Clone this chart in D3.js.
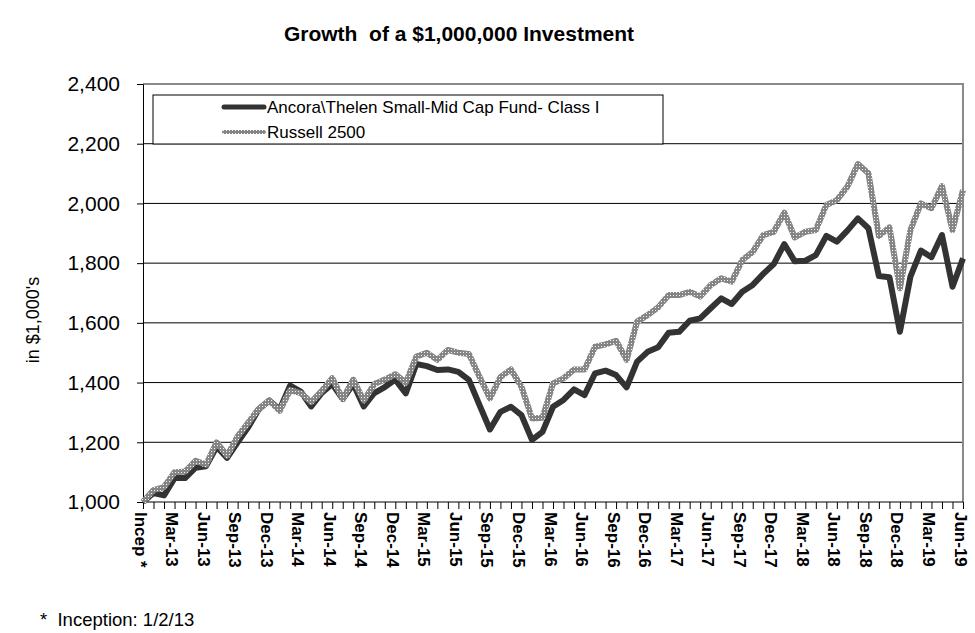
<!DOCTYPE html>
<html><head><meta charset="utf-8">
<script src="https://cdn.jsdelivr.net/npm/d3@7/dist/d3.min.js"></script>
<style>body{margin:0;background:#fff} svg{display:block;font-family:"Liberation Sans",Arial,sans-serif} text{white-space:pre}</style>
</head><body><svg id="c" width="975" height="633"></svg>
<script>
// Monthly values (in $1,000's), index 0 = inception 1/2/13, index 78 = Jun-19
const fund = [1000,1030,1022,1080,1080,1115,1120,1185,1148,1200,1250,1310,1340,1310,
  1390,1370,1320,1365,1395,1345,1395,1320,1365,1385,1410,1364,1462,1455,1442,1444,
  1436,1409,1325,1243,1302,1319,1291,1208,1235,1319,1342,1377,1358,1431,1440,1425,
  1384,1470,1503,1518,1567,1570,1607,1615,1649,1682,1663,1704,1727,1764,1797,1864,
  1806,1808,1827,1891,1872,1909,1950,1917,1757,1753,1570,1755,1842,1820,1894,1721,1816];
const russell = [1000,1040,1050,1100,1102,1138,1125,1200,1155,1220,1265,1312,1340,1305,
  1375,1365,1335,1372,1415,1345,1410,1340,1395,1410,1428,1400,1487,1500,1476,1509,
  1500,1496,1420,1347,1418,1444,1386,1280,1282,1397,1414,1444,1444,1520,1528,1540,
  1476,1604,1626,1652,1693,1693,1704,1688,1727,1749,1738,1810,1838,1894,1905,1969,
  1886,1905,1911,1995,2011,2056,2132,2101,1891,1920,1716,1911,2000,1984,2058,1911,2045];
const tickLabels = ["Incep *","Mar-13","Jun-13","Sep-13","Dec-13","Mar-14","Jun-14","Sep-14",
  "Dec-14","Mar-15","Jun-15","Sep-15","Dec-15","Mar-16","Jun-16","Sep-16","Dec-16","Mar-17",
  "Jun-17","Sep-17","Dec-17","Mar-18","Jun-18","Sep-18","Dec-18","Mar-19","Jun-19"];
const yTicks = [1000,1200,1400,1600,1800,2000,2200,2400];
const seriesNames = ["Ancora\\Thelen Small-Mid Cap Fund- Class I","Russell 2500"];
const title = "Growth  of a $1,000,000 Investment";
const yLabel = "in $1,000's";
const footnote = "*  Inception: 1/2/13";

const svg = d3.select("#c");
const L = 143, R = 963, T = 84, B = 502;
const x = d3.scaleLinear().domain([0, fund.length - 1]).range([L, R]);
const y = d3.scaleLinear().domain([1000, 2400]).range([B, T]);

const defs = svg.append("defs");
const pat = defs.append("pattern").attr("id","dots").attr("width",3).attr("height",3)
  .attr("patternUnits","userSpaceOnUse");
pat.append("rect").attr("width",3).attr("height",3).attr("fill","#858585");
pat.append("rect").attr("x",1).attr("y",1).attr("width",1).attr("height",1).attr("fill","#f4f4f4");

// title
svg.append("text").attr("x",459).attr("y",41).attr("text-anchor","middle")
  .attr("font-weight","bold").attr("font-size",21).text(title);

// gridlines
svg.append("g").selectAll("line").data(yTicks.slice(1)).join("line")
  .attr("x1",L).attr("x2",R).attr("y1",d=>y(d)).attr("y2",d=>y(d))
  .attr("stroke","#000").attr("stroke-width",1);

// top & right border (grey)
svg.append("line").attr("x1",L).attr("x2",R+1).attr("y1",T).attr("y2",T).attr("stroke","#8a8a8a").attr("stroke-width",2);
svg.append("line").attr("x1",R).attr("x2",R).attr("y1",T).attr("y2",B).attr("stroke","#8a8a8a").attr("stroke-width",2);

// y axis
const ya = svg.append("g").attr("transform",`translate(${L},0)`)
  .call(d3.axisLeft(y).tickValues(yTicks).tickSize(6).tickPadding(17).tickFormat(d3.format(",")));
ya.selectAll("text").attr("font-size",21).attr("fill","#000").attr("font-family","Liberation Sans, Arial");
ya.selectAll("line,path").attr("stroke","#000");

// x axis ticks
const xa = svg.append("g").attr("transform",`translate(0,${B})`)
  .call(d3.axisBottom(x).tickValues(d3.range(fund.length)).tickSize(7).tickFormat(""));
xa.selectAll("line,path").attr("stroke","#000");
xa.select("path").attr("d",`M${L},0H${R}`);

// x labels
svg.append("g").selectAll("text").data(tickLabels).join("text")
  .attr("transform",(d,i)=>`translate(${x(i*3)},512) rotate(90)`)
  .attr("dy","0.5em").attr("font-weight","bold").attr("font-size",17).text(d=>d);

// y label
svg.append("text").attr("transform","translate(33,320) rotate(-90)").attr("text-anchor","middle")
  .attr("dy","0.35em").attr("font-size",18).text(yLabel);

// footnote
svg.append("text").attr("x",40).attr("y",626).attr("font-size",18.5).text(footnote);

// lines
const line = d3.line().x((d,i)=>x(i)).y(d=>y(d));
svg.append("path").datum(fund).attr("d",line).attr("fill","none")
  .attr("stroke","#333").attr("stroke-width",6).attr("stroke-linejoin","round");
svg.append("path").datum(russell).attr("d",line).attr("fill","none")
  .attr("stroke","url(#dots)").attr("stroke-width",6).attr("stroke-linejoin","round");

// legend
const lg = svg.append("g");
lg.append("rect").attr("x",153).attr("y",95).attr("width",510).attr("height",49)
  .attr("fill","#fff").attr("stroke","#000").attr("stroke-width",1);
const rows = [{n:seriesNames[0], s:"#333", y:107},{n:seriesNames[1], s:"url(#dots)", y:132}];
rows.forEach(r=>{
  lg.append("line").attr("x1",224).attr("x2",264).attr("y1",r.y).attr("y2",r.y)
    .attr("stroke",r.s).attr("stroke-width",r.s==="#333"?5:4).attr("stroke-linecap","round");
  lg.append("text").attr("x",267).attr("y",r.y).attr("dy","0.36em").attr("font-size",17).text(r.n);
});
</script></body></html>
